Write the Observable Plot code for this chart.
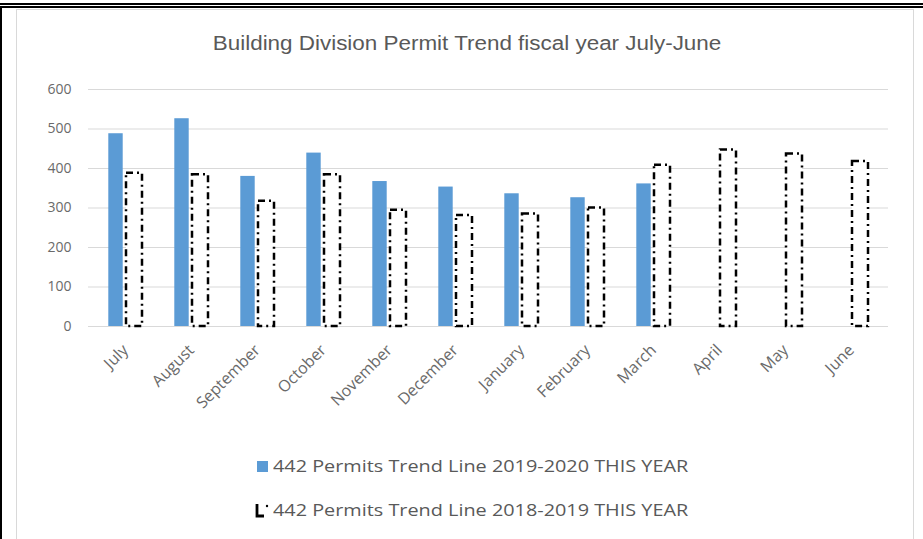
<!DOCTYPE html>
<html><head><meta charset="utf-8">
<script src="https://cdn.jsdelivr.net/npm/d3@7"></script>
<script src="https://cdn.jsdelivr.net/npm/@observablehq/plot@0.6"></script>
<style>
body{margin:0;background:#fff;}
#wrap{position:relative;width:923px;height:539px;overflow:hidden;background:#fff;font-family:"Open Sans",sans-serif;color:#595959;}
.deco{position:absolute;}
#title{position:absolute;left:20px;width:899px;top:32px;text-align:center;font-family:"Liberation Sans",Arial,sans-serif;font-size:19.5px;color:#595959;white-space:nowrap;transform:scaleX(1.15);transform-origin:466px 0;}
#chart{position:absolute;left:0;top:69px;}
#legend{position:absolute;left:0;top:440px;width:923px;}
.row{position:absolute;display:flex;align-items:center;white-space:nowrap;font-size:15.5px;color:#595959;transform-origin:0 50%;}
.sw{display:inline-block;margin-right:5px;}
</style></head><body>
<div id="wrap">
  <div class="deco" style="left:0;top:3px;width:923px;height:2px;background:#000"></div>
  <div class="deco" style="left:0;top:6px;width:923px;height:2px;background:#000"></div>
  <div class="deco" style="left:0;top:6px;width:2px;height:533px;background:#000"></div>
  <div class="deco" style="left:16px;top:9px;width:898px;height:540px;border:1px solid #d9d9d9;border-bottom:none;box-sizing:border-box"></div>
  <div id="title"></div>
  <div id="chart"></div>
  <div id="legend"></div>
</div>
<script>
const titleText = "Building Division Permit Trend fiscal year July-June";
const months = ["July","August","September","October","November","December","January","February","March","April","May","June"];
const seriesNames = ["442 Permits Trend Line 2019-2020 THIS YEAR", "442 Permits Trend Line 2018-2019 THIS YEAR"];
const permits2019_2020 = [488, 526, 380, 439, 367, 353, 336, 326, 361, null, null, null];
const permits2018_2019 = [388, 384, 317, 384, 294, 281, 285, 300, 408, 447, 437, 418];
const yTicks = [0, 100, 200, 300, 400, 500, 600];

document.getElementById("title").textContent = titleText;

const thisYear = months.map((m, i) => ({month: m, value: permits2019_2020[i]})).filter(d => d.value != null);
const lastYear = months.map((m, i) => ({month: m, value: permits2018_2019[i]}));

const chart = Plot.plot({
  width: 923, height: 371,
  marginTop: 20, marginBottom: 114, marginLeft: 88, marginRight: 35,
  style: {fontFamily: "'Open Sans', sans-serif", fontSize: "14px", color: "#6a6a6a", background: "transparent", overflow: "visible"},
  x: {domain: months, padding: 0, label: null, tickRotate: -45, tickSize: 0, tickPadding: 21},
  y: {domain: [0, 600], ticks: yTicks, label: null, tickSize: 0, tickPadding: 17},
  marks: [
    Plot.gridY(yTicks, {stroke: "#d9d9d9", strokeOpacity: 1}),
    Plot.barY(thisYear, {x: "month", y: "value", fill: "#5b9bd5", insetLeft: 16.3, insetRight: 35.3}),
    Plot.barY(lastYear, {x: "month", y: "value", fill: "white", stroke: "#000", strokeWidth: 2.5, strokeDasharray: "7,4,2,4", insetLeft: 34, insetRight: 16})
  ]
});
chart.querySelectorAll('[aria-label="x-axis tick label"] text').forEach(t => t.style.fontSize = "16px");
document.getElementById("chart").appendChild(chart);

const legend = document.getElementById("legend");
const r1 = document.createElement("div");
r1.className = "row"; r1.style.left = "257px"; r1.style.top = "15px";
r1.innerHTML = '<span class="sw" style="width:11px;height:11px;background:#5b9bd5"></span>';
const t1 = document.createElement("span"); t1.textContent = seriesNames[0];
t1.style.display = "inline-block"; t1.style.transform = "scaleX(1.28)"; t1.style.transformOrigin = "0 50%";
r1.appendChild(t1);
const r2 = document.createElement("div");
r2.className = "row"; r2.style.left = "254px"; r2.style.top = "59px";
r2.innerHTML = '<svg class="sw" width="16" height="16" style="margin-right:3px"><path d="M3,2V14H10" fill="none" stroke="#000" stroke-width="2.8"/><circle cx="13" cy="4" r="1.2" fill="#000"/></svg>';
const t2 = document.createElement("span"); t2.textContent = seriesNames[1];
t2.style.display = "inline-block"; t2.style.transform = "scaleX(1.28)"; t2.style.transformOrigin = "0 50%";
r2.appendChild(t2);
legend.appendChild(r1); legend.appendChild(r2);
</script>
</body></html>
